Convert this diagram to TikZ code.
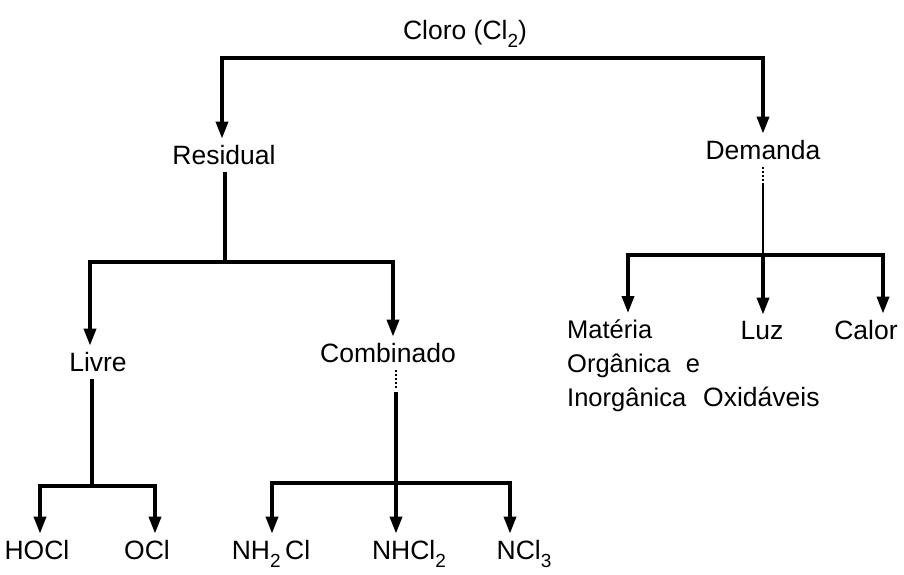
\documentclass[tikz,border=0pt]{standalone}
\usepackage{fontspec}
\setmainfont{Liberation Sans}
\usetikzlibrary{arrows.meta}
\newcommand\lsub[1]{\raisebox{-0.32em}{\fontsize{19}{19}\selectfont #1}}
\tikzset{
  lbl/.style={inner sep=0pt, anchor=base, font=\fontsize{26.5}{34}\selectfont},
  ln/.style={line width=3.5pt, line cap=butt, line join=miter},
  arr/.style={ln, -{Triangle[width=12pt,length=17pt]}},
}
\begin{document}
\begin{tikzpicture}[x=1pt,y=-1pt]
\useasboundingbox[fill=white] (0,0) rectangle (904,574);
% nodes
\node[lbl] (cloro) at (465,39) {Cloro (Cl\lsub{2})};
\node[lbl] (residual) at (224,164) {Residual};
\node[lbl] (demanda) at (763,159) {Demanda};
\node[lbl] (livre) at (98,371) {Livre};
\node[lbl] (combinado) at (388,362) {Combinado};
\node[lbl] (hocl) at (37,559) {HOCl};
\node[lbl] (ocl) at (147,559) {OCl};
\node[lbl] (nh2cl) at (271,559) {NH\lsub{2}\,Cl};
\node[lbl] (nhcl2) at (409,559) {NHCl\lsub{2}};
\node[lbl] (ncl3) at (524,559) {NCl\lsub{3}};
\node[lbl, anchor=base west, align=left, font=\fontsize{25.5}{34}\selectfont] (materia) at (567,406) {Matéria\\Orgânica\hspace{0.6em}e\\Inorgânica};
\node[lbl] (luz) at (762,339) {Luz};
\node[lbl, anchor=base west] (oxid) at (703,406) {Oxidáveis};
\node[lbl] (calor) at (866,339) {Calor};
% junction coordinates
\coordinate (t1) at (222,58);
\coordinate (t2) at (763,58);
\coordinate (rj) at (225,262);
\coordinate (r1) at (90,262);
\coordinate (r2) at (393,262);
\coordinate (lj) at (92,486);
\coordinate (l1) at (40,486);
\coordinate (l2) at (155,486);
\coordinate (cj) at (396,483);
\coordinate (c1) at (272,483);
\coordinate (c2) at (510,483);
\coordinate (dj) at (763,255);
\coordinate (d1) at (628,255);
\coordinate (d2) at (883,255);
% top level
\draw[ln] ([xshift=-1.75pt]t1) -- ([xshift=1.75pt]t2);
\draw[arr] (t1) -- ([yshift=6pt]t1 |- residual.north);
\draw[arr] (t2) -- ([yshift=6pt]t2 |- demanda.north);
% residual
\draw[ln] ([yshift=-8pt]residual.south -| rj) -- (rj);
\draw[ln] ([xshift=-1.75pt]r1) -- ([xshift=1.75pt]r2);
\draw[arr] (r1) -- ([yshift=6pt]r1 |- livre.north);
\draw[arr] (r2) -- ([yshift=6pt]r2 |- combinado.north);
% livre
\draw[ln] ([yshift=-8pt]livre.south -| lj) -- (lj);
\draw[ln] ([xshift=-1.75pt]l1) -- ([xshift=1.75pt]l2);
\draw[arr] (l1) -- ([yshift=6pt]l1 |- hocl.north);
\draw[arr] (l2) -- ([yshift=6pt]l2 |- ocl.north);
% combinado
\draw[line width=2pt, dotted] ([yshift=-8pt]combinado.south -| cj) -- ++(0,18);
\draw[ln] ([yshift=-30pt]combinado.south -| cj) -- (cj);
\draw[ln] ([xshift=-1.75pt]c1) -- ([xshift=1.75pt]c2);
\draw[arr] (c1) -- ([yshift=6pt]c1 |- nh2cl.north);
\draw[arr] (cj) -- ([yshift=6pt]cj |- nhcl2.north);
\draw[arr] (c2) -- ([yshift=6pt]c2 |- ncl3.north);
% demanda
\draw[line width=2pt, dotted] ([yshift=-8pt]demanda.south -| dj) -- ++(0,14);
\draw[line width=2.5pt] ([yshift=-24pt]demanda.south -| dj) -- (dj);
\draw[ln] ([xshift=-1.75pt]d1) -- ([xshift=1.75pt]d2);
\draw[arr] (d1) -- ([yshift=6pt]d1 |- materia.north);
\draw[arr] (dj) -- ([yshift=6pt]dj |- luz.north);
\draw[arr] (d2) -- ([yshift=6pt]d2 |- calor.north);
\end{tikzpicture}
\end{document}
